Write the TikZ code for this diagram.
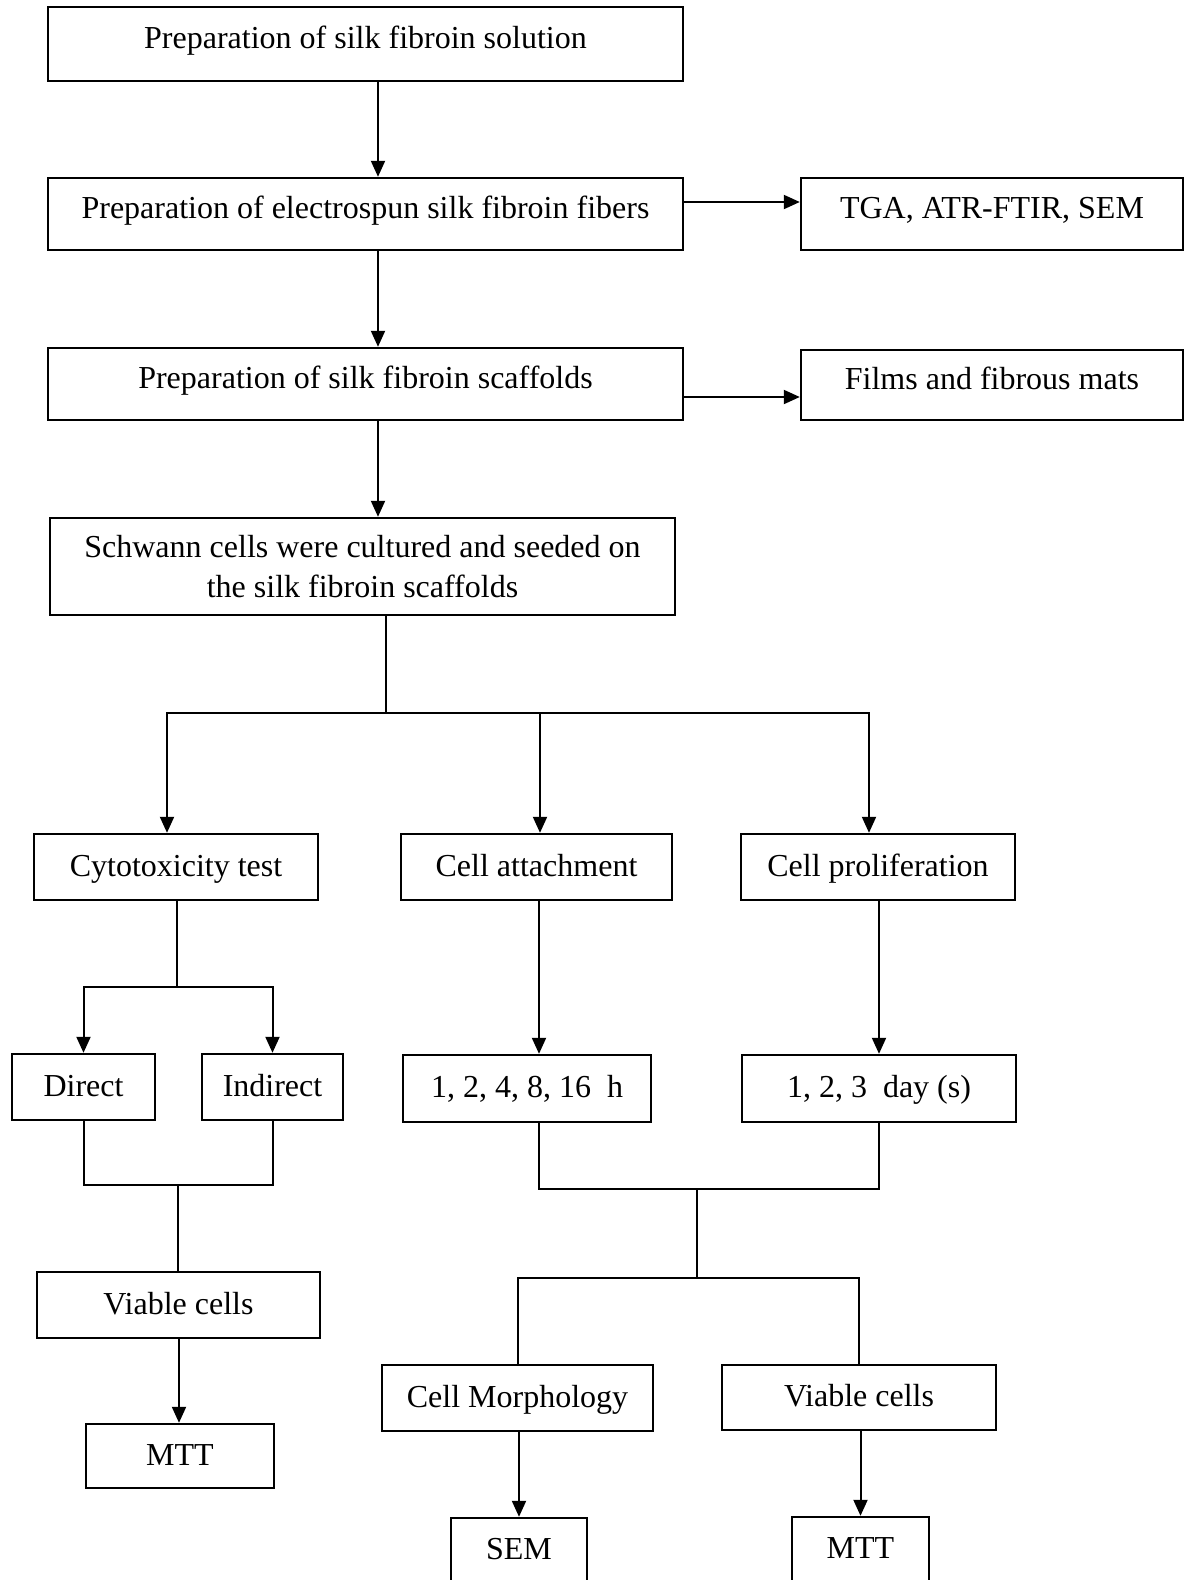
\documentclass[tikz,border=0pt]{standalone}
\usepackage{fontspec}
\setmainfont{Liberation Serif}
\usetikzlibrary{arrows.meta,calc}
\begin{document}
\begin{tikzpicture}[x=0.5pt,y=-0.5pt,
  box/.style={draw,line width=1.2pt,rectangle,inner sep=0pt,text height=1.15em,text depth=0.22em,font=\fontsize{16}{20}\selectfont},
  upbox/.style={box,text height=1.0em,text depth=0.55em},
  twobox/.style={draw,line width=1.2pt,rectangle,inner sep=0pt,align=center,font=\fontsize{16}{20}\selectfont},
  arr/.style={line width=1pt,-{Triangle[length=8pt,width=7pt]}},
  ln/.style={line width=1pt}]
\useasboundingbox (0,0) rectangle (1190,1580);
\fill[white] (0,0) rectangle (1190,1580);
\clip (0,0) rectangle (1190,1580);

% nodes
\node[upbox,minimum width=317.5pt,minimum height=37pt] (b1) at (365.5,44) {Preparation of silk fibroin solution};
\node[upbox,minimum width=317.5pt,minimum height=36pt] (b2) at (365.5,214) {Preparation of electrospun silk fibroin fibers};
\node[upbox,minimum width=191pt,minimum height=36pt] (tga) at (992,214) {TGA, ATR-FTIR, SEM};
\node[upbox,minimum width=317.5pt,minimum height=36pt] (b3) at (365.5,384) {Preparation of silk fibroin scaffolds};
\node[upbox,minimum width=191pt,minimum height=35pt] (films) at (992,385) {Films and fibrous mats};
\node[twobox,minimum width=312.5pt,minimum height=48.5pt] (b4) at (362.5,566.5) {Schwann cells were cultured and seeded on\\the silk fibroin scaffolds};
\node[box,minimum width=142pt,minimum height=33pt] (cyto) at (176,867) {Cytotoxicity test};
\node[box,minimum width=135.5pt,minimum height=33pt] (att) at (536.5,867) {Cell attachment};
\node[box,minimum width=137pt,minimum height=33pt] (prol) at (878,867) {Cell proliferation};
\node[box,minimum width=71.5pt,minimum height=33pt] (dir) at (83.5,1087) {Direct};
\node[box,minimum width=70.5pt,minimum height=33pt] (ind) at (272.5,1087) {Indirect};
\node[box,minimum width=124pt,minimum height=33.5pt] (hrs) at (527,1088.5) {1, 2, 4, 8, 16\ \ h};
\node[box,minimum width=137pt,minimum height=33.5pt] (days) at (879,1088.5) {1, 2, 3\ \ day (s)};
\node[box,minimum width=141.5pt,minimum height=33pt] (vcL) at (178.5,1305) {Viable cells};
\node[box,minimum width=94pt,minimum height=32pt] (mttL) at (180,1456) {MTT};
\node[box,minimum width=135.5pt,minimum height=33pt] (cm) at (517.5,1398) {Cell Morphology};
\node[box,minimum width=137pt,minimum height=32.5pt] (vcR) at (859,1397.5) {Viable cells};
\node[box,minimum width=68pt,minimum height=32pt] (sem) at (519,1550) {SEM};
\node[box,minimum width=68.5pt,minimum height=32pt] (mttR) at (860.5,1549) {MTT};

% helper coordinates
\coordinate (xm) at (378,0);
\coordinate (yt) at (0,202);
\coordinate (yf) at (0,397);
\coordinate (j1) at (386,713);
\coordinate (j2) at (177,987);
\coordinate (xa) at (539,0);
\coordinate (xp) at (879,0);
\coordinate (j3) at (178,1185);
\coordinate (j4) at (697,1189);
\coordinate (j5) at (697,1278);
\coordinate (xl) at (179,0);

% connectors
\draw[arr] (b1.south -| xm) -- (b2.north -| xm);
\draw[arr] (b2.south -| xm) -- (b3.north -| xm);
\draw[arr] (b3.south -| xm) -- (b4.north -| xm);
\draw[arr] (b2.east |- yt) -- (tga.west |- yt);
\draw[arr] (b3.east |- yf) -- (films.west |- yf);

\draw[ln] (b4.south -| j1) -- (j1);
\draw[arr] (j1) -| ([xshift=-4.5pt]cyto.north);
\draw[arr] (j1) -| ([xshift=1.75pt]att.north);
\draw[arr] (j1) -| ([xshift=-4.5pt]prol.north);

\draw[ln] (cyto.south -| j2) -- (j2);
\draw[arr] (j2) -| (dir.north);
\draw[arr] (j2) -| (ind.north);

\draw[arr] (att.south -| xa) -- (hrs.north -| xa);
\draw[arr] (prol.south -| xp) -- (days.north -| xp);

\draw[ln] (dir.south) |- (j3);
\draw[ln] (ind.south) |- (j3);
\draw[ln] (j3) -- (vcL.north -| j3);

\draw[ln] (hrs.south -| xa) |- (j4);
\draw[ln] (days.south -| xp) |- (j4);
\draw[ln] (j4) -- (j5);
\draw[ln] (cm.north) |- (j5);
\draw[ln] (vcR.north) |- (j5);

\draw[arr] (vcL.south -| xl) -- (mttL.north -| xl);
\draw[arr] (cm.south -| sem) -- (sem.north);
\draw[arr] (vcR.south -| mttR) -- (mttR.north);
\end{tikzpicture}
\end{document}
